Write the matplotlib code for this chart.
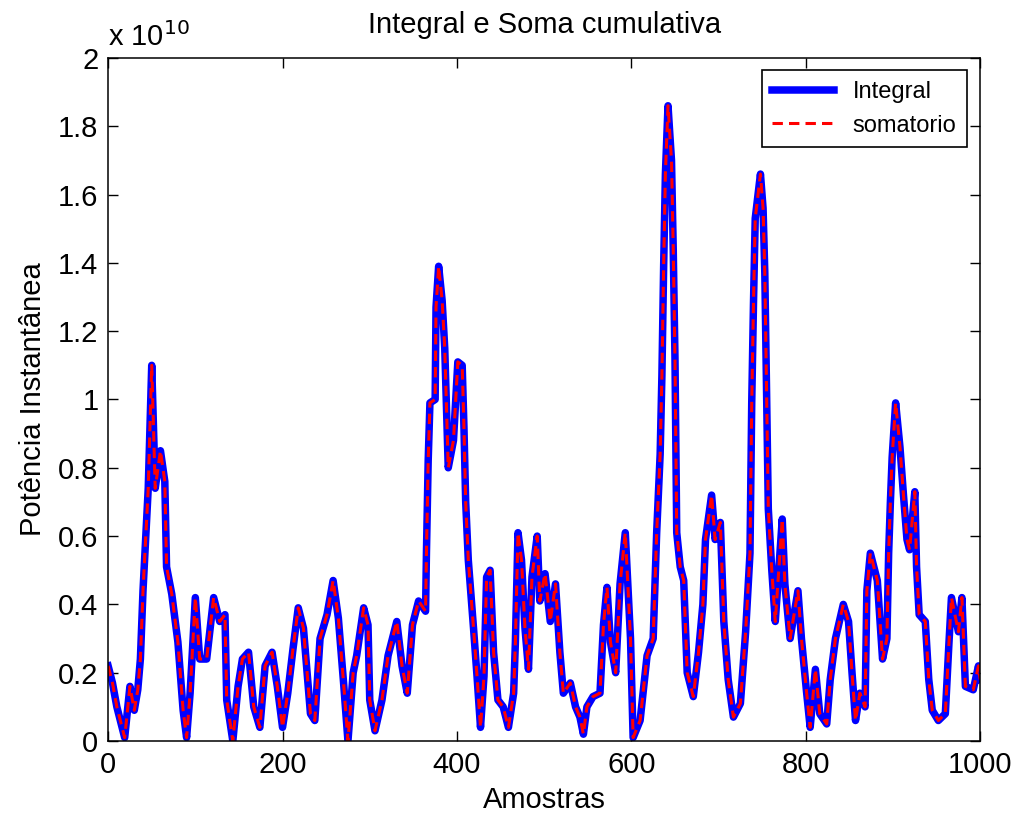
import numpy as np
import matplotlib
matplotlib.use("Agg")
import matplotlib.pyplot as plt
from matplotlib.ticker import FuncFormatter

plt.rcParams['font.family'] = ['Liberation Sans', 'DejaVu Sans']

# amostras (indice) e potencia instantanea em unidades de 1e10
amostras = [0, 5, 10, 15, 19, 25, 30, 34, 37, 40, 46, 50, 54, 60, 65, 67, 73, 80, 86, 90,
            94, 100, 105, 113, 121, 128, 134, 136, 143, 149, 154, 161, 167, 174, 180, 188, 194, 200, 206, 212,
            218, 224, 232, 237, 243, 251, 258, 264, 270, 275, 281, 285, 293, 298, 300, 306, 314, 321, 331, 337,
            343, 349, 356, 364, 365, 367, 369, 375, 376, 379, 383, 386, 390, 396, 401, 406, 408, 410, 413, 419,
            423, 427, 431, 434, 438, 442, 447, 453, 459, 465, 467, 470, 474, 478, 482, 486, 492, 495, 501, 507,
            513, 518, 522, 530, 536, 541, 545, 549, 556, 564, 568, 572, 576, 582, 587, 593, 599, 602, 610, 618,
            625, 629, 633, 635, 637, 639, 642, 646, 648, 650, 652, 656, 660, 664, 671, 677, 682, 685, 692, 696,
            702, 706, 711, 717, 725, 731, 736, 738, 740, 742, 748, 751, 753, 755, 757, 761, 765, 773, 776, 782,
            791, 795, 801, 805, 811, 816, 824, 828, 834, 843, 849, 853, 857, 862, 868, 870, 874, 882, 888, 893,
            895, 897, 899, 903, 908, 912, 916, 919, 925, 927, 930, 937, 941, 945, 952, 960, 964, 967, 975, 979,
            983, 992, 998, 1000]
integral = [0.22, 0.17, 0.10, 0.05, 0.01, 0.16, 0.09, 0.15, 0.24, 0.44, 0.74, 1.10, 0.74, 0.85, 0.76, 0.51, 0.43, 0.29, 0.09, 0.01,
            0.14, 0.42, 0.24, 0.24, 0.42, 0.35, 0.37, 0.12, 0.0, 0.16, 0.24, 0.26, 0.10, 0.04, 0.22, 0.26, 0.16, 0.04, 0.14, 0.27,
            0.39, 0.33, 0.08, 0.06, 0.30, 0.37, 0.47, 0.36, 0.17, 0.0, 0.20, 0.25, 0.39, 0.34, 0.12, 0.03, 0.12, 0.25, 0.35, 0.22,
            0.14, 0.34, 0.41, 0.38, 0.55, 0.82, 0.99, 1.00, 1.27, 1.39, 1.29, 1.15, 0.80, 0.88, 1.11, 1.10, 0.92, 0.70, 0.53, 0.33,
            0.19, 0.04, 0.19, 0.48, 0.50, 0.26, 0.12, 0.10, 0.04, 0.14, 0.29, 0.61, 0.53, 0.33, 0.21, 0.48, 0.60, 0.41, 0.49, 0.35,
            0.46, 0.26, 0.14, 0.17, 0.10, 0.07, 0.02, 0.10, 0.13, 0.14, 0.34, 0.45, 0.29, 0.20, 0.46, 0.61, 0.30, 0.01, 0.06, 0.25,
            0.30, 0.61, 0.84, 1.07, 1.39, 1.66, 1.86, 1.70, 1.44, 1.12, 0.61, 0.51, 0.47, 0.20, 0.13, 0.26, 0.40, 0.59, 0.72, 0.59,
            0.64, 0.35, 0.18, 0.07, 0.11, 0.32, 0.55, 0.99, 1.28, 1.53, 1.66, 1.56, 1.37, 1.03, 0.68, 0.50, 0.35, 0.65, 0.46, 0.30,
            0.44, 0.30, 0.14, 0.04, 0.21, 0.08, 0.05, 0.18, 0.30, 0.40, 0.35, 0.20, 0.06, 0.14, 0.10, 0.44, 0.55, 0.47, 0.24, 0.30,
            0.55, 0.70, 0.83, 0.99, 0.86, 0.72, 0.59, 0.56, 0.73, 0.51, 0.37, 0.35, 0.18, 0.09, 0.06, 0.08, 0.28, 0.42, 0.32, 0.42,
            0.16, 0.15, 0.22, 0.18]
somatorio = list(integral)

xticks = [0, 200, 400, 600, 800, 1000]
yticks = [0, 0.2, 0.4, 0.6, 0.8, 1.0, 1.2, 1.4, 1.6, 1.8, 2.0]

fig = plt.figure(figsize=(10.2, 8.24), dpi=100)
ax = fig.add_axes([0.106, 0.1007, 0.855, 0.829])

ax.plot(amostras, integral, color='#0000ff', lw=5.4, label='Integral')
ax.plot(amostras, somatorio, color='#ff0000', lw=2.2, ls=(0, (3.4, 2.0)), label='somatorio')

ax.set_xlim(0, 1000)
ax.set_ylim(0, 2)
ax.set_xticks(xticks)
ax.set_yticks(yticks)
ax.yaxis.set_major_formatter(FuncFormatter(lambda v, p: '%g' % v))
ax.tick_params(direction='in', length=7, width=1, top=True, right=True, labelsize=21, pad=7)
for s in ax.spines.values():
    s.set_linewidth(1.1)

ax.set_title('Integral e Soma cumulativa', fontsize=21, pad=18)
ax.set_xlabel('Amostras', fontsize=21, labelpad=5)
ax.set_ylabel('Potência Instantânea', fontsize=21, labelpad=8)
ax.text(0.0, 1.008, r'x 10$^{10}$', transform=ax.transAxes, fontsize=21, ha='left', va='bottom')

leg = ax.legend(loc='upper right', bbox_to_anchor=(0.985, 0.982), borderaxespad=0, fontsize=17,
                fancybox=False, framealpha=1, edgecolor='black', handlelength=2.6, borderpad=0.45)
leg.get_frame().set_linewidth(1.2)

fig.savefig('out.png', dpi=100)
